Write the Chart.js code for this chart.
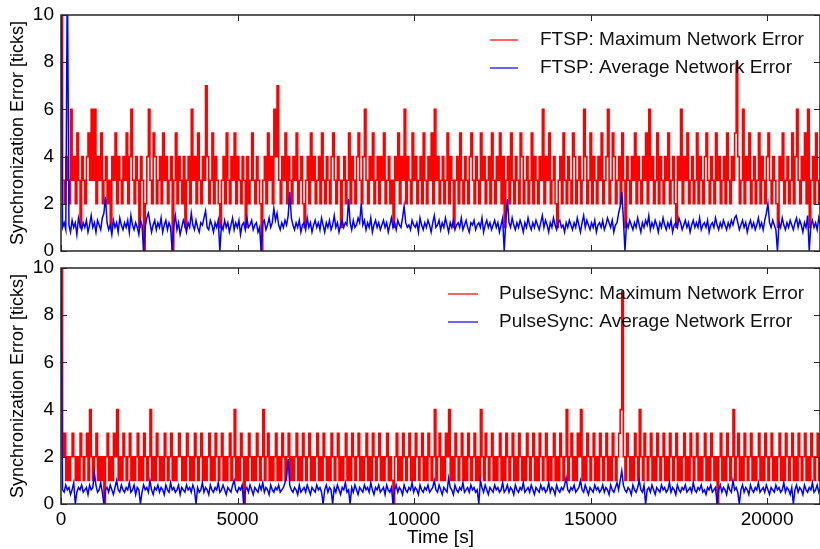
<!DOCTYPE html>
<html>
<head>
<meta charset="utf-8">
<script src="https://cdn.jsdelivr.net/npm/chart.js@4.4.1/dist/chart.umd.min.js"></script>
<style>
  body { margin: 0; background: #fff; }
  #wrap { position: relative; width: 820px; height: 549px; overflow: hidden; }
  canvas { position: absolute; left: 0; }
  #topChart { top: 0; }
  #bottomChart { top: 256px; }
</style>
</head>
<body>
<div id="wrap">
  <canvas id="topChart" width="820" height="262"></canvas>
  <canvas id="bottomChart" width="820" height="293"></canvas>
</div>
<script>
// one sample every 45 s
const sampleInterval = 45;
const xTickValues = [0, 5000, 10000, 15000, 20000];
const yTickValues = [0, 2, 4, 6, 8, 10];

const ftspMax = [
  10, 3, 2, 4, 3, 2, 6, 3, 4, 2, 5, 3, 1, 4, 3, 2, 4, 5, 3, 6,
  3, 6, 2, 4, 3, 5, 2, 3, 4, 2, 3, 1, 4, 3, 5, 2, 4, 3, 2, 4,
  3, 5, 2, 4, 6, 3, 2, 4, 3, 1, 4, 3, 0, 2, 4, 6, 3, 2, 5, 4,
  2, 3, 4, 2, 5, 3, 4, 2, 3, 4, 0, 3, 5, 2, 4, 3, 2, 4, 1, 3,
  4, 2, 6, 3, 4, 2, 5, 3, 2, 4, 3, 7, 4, 2, 3, 5, 2, 4, 3, 2,
  1, 3, 4, 2, 5, 3, 2, 4, 3, 5, 2, 4, 3, 2, 4, 3, 1, 4, 2, 3,
  5, 3, 2, 4, 3, 2, 0, 3, 4, 2, 5, 3, 4, 2, 6, 4, 7, 3, 2, 4,
  3, 5, 2, 4, 3, 2, 4, 3, 5, 2, 3, 4, 2, 1, 3, 4, 2, 5, 3, 4,
  2, 3, 4, 2, 5, 3, 2, 4, 3, 2, 4, 5, 3, 2, 4, 3, 1, 3, 4, 2,
  3, 5, 2, 4, 3, 2, 4, 5, 3, 2, 4, 6, 3, 2, 4, 3, 5, 2, 3, 4,
  2, 4, 3, 5, 2, 3, 4, 2, 3, 1, 4, 3, 5, 2, 4, 3, 6, 2, 4, 3,
  2, 5, 3, 4, 2, 3, 4, 2, 5, 3, 2, 4, 3, 5, 2, 6, 3, 4, 2, 3,
  4, 2, 3, 5, 2, 4, 3, 1, 3, 4, 2, 5, 3, 2, 4, 3, 2, 4, 5, 3,
  2, 4, 3, 2, 5, 3, 4, 2, 3, 4, 2, 5, 3, 2, 4, 3, 5, 2, 4, 1,
  3, 4, 2, 5, 3, 2, 4, 3, 2, 5, 4, 2, 3, 4, 2, 3, 5, 2, 4, 3,
  2, 4, 3, 6, 2, 4, 3, 5, 2, 3, 4, 2, 1, 3, 4, 2, 5, 3, 2, 4,
  3, 2, 5, 4, 2, 3, 4, 2, 3, 6, 4, 2, 3, 5, 2, 4, 3, 2, 4, 3,
  5, 2, 3, 4, 6, 2, 3, 5, 4, 2, 3, 4, 2, 5, 3, 1, 4, 3, 2, 4,
  3, 5, 2, 4, 3, 2, 4, 3, 5, 2, 6, 3, 4, 2, 3, 5, 2, 4, 3, 2,
  4, 3, 5, 2, 3, 4, 2, 1, 4, 3, 6, 2, 4, 3, 5, 2, 3, 4, 2, 3,
  5, 2, 4, 3, 2, 4, 5, 3, 2, 4, 3, 2, 5, 3, 4, 2, 3, 4, 2, 5,
  3, 2, 4, 3, 5, 8, 4, 2, 3, 6, 2, 4, 3, 5, 2, 3, 4, 2, 3, 5,
  2, 4, 3, 2, 4, 5, 3, 2, 4, 3, 2, 1, 4, 3, 5, 2, 3, 4, 2, 3,
  5, 2, 4, 6, 3, 2, 4, 3, 5, 2, 6, 1, 3, 4, 2, 5, 3, 2, 4, 3
];
const ftspAvg = [
  12, 1.0, 1.2, 0.9, 12, 1.1, 0.8, 1.3, 1.0, 1.2, 0.7, 1.4, 1.1, 0.9, 1.2, 1.0, 1.3, 0.8, 1.1, 1.5,
  1.0, 1.2, 0.8, 1.3, 1.1, 0.9, 1.4, 1.6, 2.3, 1.2, 0.9, 1.1, 0.7, 1.3, 1.0, 1.2, 0.8, 1.4, 1.1, 0.9,
  1.2, 1.0, 1.3, 0.8, 1.5, 1.1, 0.9, 1.2, 1.0, 0.7, 1.3, 1.1, 0, 1.0, 1.4, 1.6, 1.2, 0.8, 1.1, 1.3,
  0.9, 1.2, 1.0, 1.4, 0.8, 1.1, 1.3, 0.9, 1.2, 1.0, 0, 1.1, 1.5, 0.9, 1.2, 0.7, 1.0, 1.3, 1.1, 0.8,
  1.2, 1.0, 1.6, 1.1, 0.9, 1.3, 1.0, 0.8, 1.2, 1.1, 1.4, 1.7, 1.0, 0.9, 1.3, 1.1, 0.8, 1.2, 1.0, 1.3,
  0, 1.1, 0.9, 1.3, 1.0, 1.2, 0.8, 1.1, 1.4, 0.9, 1.2, 1.0, 1.3, 0.7, 1.1, 1.2, 0.9, 1.4, 1.0, 1.1,
  1.3, 0.9, 1.1, 1.2, 0.8, 1.0, 0, 1.2, 1.3, 0.9, 1.1, 1.4, 1.0, 1.2, 1.8, 1.3, 1.6, 1.1, 0.9, 1.2,
  1.0, 1.3, 1.1, 1.5, 2.5, 1.4, 1.1, 0.9, 1.2, 1.0, 1.3, 0.8, 1.1, 1.2, 0.9, 1.4, 1.0, 1.2, 0.8, 1.1,
  1.3, 1.0, 1.2, 0.9, 1.4, 1.1, 0.8, 1.2, 1.0, 1.3, 0.9, 1.1, 1.5, 1.0, 1.2, 0.8, 1.1, 1.3, 1.0, 1.2,
  1.1, 2.2, 1.2, 0.9, 1.3, 1.0, 1.1, 1.4, 1.2, 2.0, 1.1, 1.3, 0.9, 1.2, 1.0, 1.4, 0.8, 1.1, 1.3, 1.0,
  1.2, 0.9, 1.1, 1.3, 1.0, 1.2, 0.8, 1.1, 1.4, 1.0, 1.2, 0.9, 1.3, 1.1, 1.0, 1.4, 1.9, 1.2, 1.0, 1.1,
  0.9, 1.3, 1.1, 1.0, 1.2, 0.8, 1.4, 1.1, 0.9, 1.2, 1.0, 1.3, 1.1, 0.8, 1.2, 1.5, 1.0, 1.1, 1.3, 0.9,
  1.2, 1.0, 1.4, 1.1, 0.8, 1.2, 1.0, 1.3, 0.9, 1.1, 1.2, 1.0, 1.4, 0.9, 1.1, 1.3, 1.0, 0.8, 1.2, 1.1,
  1.3, 0.9, 1.1, 1.2, 1.0, 1.4, 0.8, 1.1, 1.3, 1.0, 1.2, 0.9, 1.1, 1.3, 1.0, 1.2, 0.8, 1.1, 1.4, 0,
  1.3, 2.2, 1.2, 1.0, 1.4, 1.1, 0.9, 1.2, 1.0, 1.3, 1.1, 0.8, 1.2, 1.0, 1.4, 1.1, 0.9, 1.2, 1.0, 1.3,
  1.1, 0.9, 1.2, 1.5, 1.0, 1.3, 1.1, 0.8, 1.2, 1.0, 1.4, 1.1, 0.9, 1.2, 1.3, 1.0, 1.1, 0.8, 1.2, 1.0,
  1.3, 1.1, 0.9, 1.2, 1.0, 1.4, 1.1, 0.8, 1.2, 1.5, 1.0, 1.3, 1.1, 0.9, 1.2, 1.0, 1.3, 0.8, 1.1, 1.2,
  1.0, 1.3, 0.9, 1.1, 1.4, 1.2, 1.0, 1.3, 0.8, 1.1, 1.2, 1.6, 1.9, 2.5, 1.4, 0, 1.2, 1.0, 1.3, 1.1,
  0.9, 1.2, 1.0, 1.4, 1.1, 0.8, 1.2, 1.0, 1.3, 1.1, 1.5, 0.9, 1.2, 1.0, 1.3, 1.1, 0.8, 1.2, 1.0, 1.4,
  1.1, 0.9, 1.2, 1.0, 1.3, 0.8, 1.1, 1.2, 1.0, 1.4, 1.2, 0.9, 1.1, 1.3, 1.0, 1.2, 0.8, 1.1, 1.3, 1.0,
  1.2, 1.0, 1.4, 0.9, 1.1, 1.2, 1.0, 1.3, 0.8, 1.1, 1.2, 1.0, 1.4, 1.1, 0.9, 1.2, 1.0, 1.3, 1.1, 0.9,
  1.2, 1.0, 1.3, 1.1, 1.4, 1.5, 1.2, 0.9, 1.1, 1.3, 1.0, 1.2, 0.8, 1.1, 1.3, 1.0, 1.2, 0.9, 1.1, 1.4,
  1.0, 1.2, 0.9, 1.3, 1.6, 2.0, 1.2, 1.0, 1.3, 1.1, 0.9, 0, 1.2, 1.0, 1.4, 1.1, 0.9, 1.2, 1.0, 1.3,
  1.1, 0.9, 1.2, 1.4, 1.0, 1.3, 1.1, 0.8, 1.2, 1.0, 1.5, 0, 1.1, 1.3, 1.0, 1.2, 0.9, 1.4, 1.1, 1.3
];
const pulseMax = [
  10, 2, 3, 1, 2, 1, 2, 3, 2, 1, 2, 1, 3, 2, 1, 2, 3, 1, 4, 2,
  1, 2, 3, 1, 2, 1, 2, 0, 2, 3, 1, 2, 1, 3, 2, 4, 1, 2, 1, 3,
  2, 1, 2, 3, 1, 2, 1, 2, 3, 1, 2, 1, 3, 2, 1, 2, 4, 1, 2, 1,
  3, 2, 1, 2, 1, 3, 2, 1, 2, 3, 1, 2, 1, 2, 3, 2, 1, 2, 1, 3,
  2, 1, 2, 1, 3, 2, 1, 2, 3, 1, 2, 1, 2, 3, 1, 2, 1, 3, 2, 1,
  2, 3, 1, 2, 1, 2, 3, 1, 2, 4, 1, 2, 1, 3, 2, 0, 2, 1, 3, 2,
  1, 2, 1, 3, 2, 1, 2, 4, 1, 2, 3, 1, 2, 1, 2, 3, 1, 2, 1, 3,
  2, 1, 2, 3, 1, 2, 1, 2, 3, 1, 2, 1, 3, 2, 1, 2, 3, 1, 2, 1,
  2, 3, 1, 2, 1, 3, 2, 1, 2, 1, 3, 2, 1, 2, 3, 1, 2, 1, 2, 3,
  1, 2, 1, 3, 2, 1, 2, 3, 1, 2, 1, 2, 3, 1, 2, 1, 3, 2, 1, 2,
  3, 1, 2, 1, 2, 3, 1, 2, 1, 0, 2, 3, 1, 2, 1, 3, 2, 1, 2, 3,
  1, 2, 1, 3, 2, 1, 2, 3, 1, 2, 1, 3, 2, 1, 2, 4, 1, 2, 3, 1,
  2, 1, 3, 2, 4, 1, 2, 1, 3, 2, 1, 2, 3, 1, 2, 1, 3, 2, 1, 2,
  3, 1, 2, 1, 4, 2, 1, 3, 2, 1, 2, 3, 1, 2, 1, 2, 3, 1, 2, 1,
  3, 2, 1, 2, 3, 1, 2, 1, 3, 2, 1, 2, 1, 3, 2, 1, 2, 3, 1, 2,
  1, 3, 2, 1, 2, 3, 1, 2, 1, 2, 3, 1, 2, 1, 3, 2, 1, 2, 4, 1,
  2, 3, 1, 2, 1, 3, 2, 4, 1, 2, 1, 3, 2, 1, 2, 3, 1, 2, 1, 3,
  2, 1, 2, 3, 1, 2, 1, 3, 2, 1, 2, 3, 4, 9, 2, 1, 3, 2, 1, 2,
  1, 3, 2, 1, 4, 2, 1, 3, 2, 1, 2, 3, 1, 2, 1, 3, 2, 1, 2, 3,
  1, 2, 1, 3, 2, 1, 2, 3, 1, 2, 1, 2, 3, 1, 2, 1, 3, 2, 1, 2,
  3, 1, 2, 1, 2, 3, 1, 2, 1, 3, 2, 1, 2, 0, 2, 3, 1, 2, 1, 3,
  2, 1, 2, 4, 1, 2, 3, 1, 2, 1, 3, 2, 1, 2, 3, 1, 2, 1, 2, 3,
  1, 2, 1, 3, 2, 1, 2, 3, 1, 2, 1, 2, 3, 1, 2, 1, 3, 2, 1, 2,
  3, 1, 2, 1, 3, 2, 1, 2, 3, 1, 2, 1, 3, 2, 1, 2, 3, 1, 2, 1
];
const pulseAvg = [
  10, 0.6, 0.5, 0.8, 0.6, 0.7, 0.4, 0.6, 0.9, 0, 0.5, 0.7, 0.6, 0.8, 0.5, 0.6, 0.7, 0.4, 0.8, 0.6,
  0.7, 1.3, 0.8, 0.5, 0.6, 0.9, 0.5, 0, 0.6, 0.7, 0.5, 0.8, 0.6, 0.4, 0.7, 1.0, 0.6, 0.5, 0.8, 0.6,
  0.5, 0.7, 0.6, 0.9, 0.5, 0.6, 0.8, 0.4, 0.7, 0.6, 0, 0.5, 0.8, 0.6, 0.7, 0.5, 1.0, 0.6, 0.4, 0.7,
  0.6, 0.8, 0.5, 0.7, 0.6, 0.4, 0.8, 0.6, 0.5, 0.9, 0.6, 0.7, 0.5, 0.6, 0.8, 0.4, 0.7, 0.6, 0.5, 0.8,
  0.6, 0.7, 0.5, 0.8, 0.6, 0, 0.7, 0.5, 0.6, 0.9, 0.5, 0.7, 0.6, 0.4, 0.8, 0.6, 0.5, 0.7, 0.6, 0.9,
  0.5, 0.6, 0.8, 0.6, 0.4, 0.7, 0.6, 0.5, 0.8, 1.0, 0.6, 0.5, 0.7, 0.6, 0.8, 0, 0.6, 0.7, 0.5, 0.8,
  0.6, 0.4, 0.7, 0.6, 0.5, 0.8, 0.6, 0.9, 0.5, 0.7, 0.6, 0.4, 0.8, 0.6, 0.5, 0.7, 0.6, 0.8, 0.5, 0.6,
  0.7, 0.9, 1.2, 1.9, 0.8, 0.6, 0.5, 0.7, 0.6, 0.4, 0.8, 0.5, 0.6, 0.7, 0.5, 0.8, 0.6, 0.4, 0.7, 0.6,
  0.5, 0.8, 0.6, 0.7, 0.5, 0, 0.6, 0.8, 0.5, 0.7, 0.6, 0, 0.7, 0.5, 0.8, 0.6, 0.4, 0.7, 0.6, 0.9,
  0.5, 0.6, 0, 0.7, 0.5, 0.8, 0.6, 0.4, 0.7, 0.6, 0.5, 0.8, 0.6, 0.7, 0.5, 0.9, 0.6, 0.4, 0.7, 0.6,
  0.8, 0.5, 0.6, 0.7, 0.4, 0.8, 0.6, 0.5, 0.7, 0, 0.6, 0.8, 0.5, 0.7, 0.6, 0.4, 0.8, 0.6, 0.5, 0.7,
  0.6, 0.9, 0.5, 0.7, 0.6, 0.4, 0.8, 0.6, 0.5, 0.7, 0.6, 0.8, 0.5, 0.6, 0.7, 1.0, 0.6, 0.5, 0.8, 0.6,
  0.4, 0.7, 0.6, 0.5, 1.1, 0.7, 0.6, 0.4, 0.8, 0.6, 0.5, 0.7, 0.6, 0.9, 0.5, 0.6, 0.7, 0.5, 0.8, 0.6,
  0.7, 0.5, 0.6, 0, 1.0, 0.7, 0.5, 0.8, 0.6, 0.4, 0.7, 0.6, 0.5, 0.8, 0.6, 0.7, 0.5, 0.6, 0.9, 0.5,
  0.6, 0.8, 0.5, 0.7, 0.6, 0.4, 0.8, 0.6, 0.5, 0.7, 0.6, 0.9, 0.5, 0.6, 0.7, 0.5, 0.8, 0.6, 0.4, 0.7,
  0.6, 0.5, 0.8, 0.6, 0.7, 0.5, 0.6, 0.9, 0.5, 0.7, 0.6, 0.4, 0.8, 0.6, 0.5, 0.7, 0.6, 0.8, 1.1, 0.6,
  0.5, 0.7, 0.6, 0.8, 0.5, 0.6, 0.7, 1.0, 0.6, 0.5, 0.8, 0.6, 0.4, 0.7, 0.6, 0.5, 0.8, 0.6, 0.7, 0.5,
  0.6, 0.8, 0.5, 0.7, 0.6, 0.4, 0.8, 0.6, 0.5, 0.7, 0.9, 0.6, 1.0, 1.4, 0.8, 0.6, 0.5, 0.7, 0.6, 0.4,
  0.8, 0.6, 0.5, 0.7, 1.0, 0.6, 0.5, 0.8, 0, 0.6, 0.7, 0.5, 0.8, 0.6, 0.4, 0.7, 0.6, 0.5, 0.8, 0.6,
  0.7, 0.5, 0.6, 0.9, 0.5, 0.7, 0.6, 0.4, 0.8, 0.6, 0.5, 0.7, 0.6, 0.8, 0.5, 0.6, 0.7, 0.5, 0.9, 0.6,
  0.5, 0.7, 0.6, 0.8, 0.5, 0.6, 0.4, 0.7, 0.6, 0.8, 0.5, 0.6, 0.7, 0, 0.6, 0.8, 0.5, 0.7, 0.6, 0.4,
  0.8, 0.6, 0.5, 1.0, 0.6, 0.7, 0.5, 0, 0.6, 0.8, 0.5, 0.7, 0.6, 0.4, 0.8, 0.6, 0.5, 0.7, 0.6, 0.9,
  0.5, 0.6, 0.7, 0.5, 0.8, 0.6, 0.4, 0.7, 0.6, 0.5, 0.8, 0.6, 0.7, 0.5, 0.6, 0.9, 0.5, 0.7, 0.6, 0.4,
  0.7, 0, 0.6, 0.8, 0.5, 0.7, 0.6, 0.4, 0.8, 0.6, 0.5, 0.7, 0.6, 0.9, 0.5, 0.6, 0.8, 0.5, 0.7, 0.6
];

const FONT = 'Liberation Sans, Arial, Helvetica, sans-serif';

const toPoints = (vals) => vals.map((v, i) => ({x: i * sampleInterval, y: v}));

// box + inward ticks like the original figure
const frameTicks = {
  id: 'frameTicks',
  afterDatasetsDraw(chart) {
    const {ctx, chartArea: a, scales} = chart;
    ctx.save();
    ctx.strokeStyle = '#262626';
    ctx.lineWidth = 1;
    xTickValues.forEach(v => {
      const px = Math.round(scales.x.getPixelForValue(v)) + 0.5;
      ctx.beginPath();
      ctx.moveTo(px, a.bottom); ctx.lineTo(px, a.bottom - 6);
      ctx.moveTo(px, a.top); ctx.lineTo(px, a.top + 6);
      ctx.stroke();
    });
    yTickValues.forEach(v => {
      const py = Math.round(scales.y.getPixelForValue(v)) + 0.5;
      ctx.beginPath();
      ctx.moveTo(a.left, py); ctx.lineTo(a.left + 6, py);
      ctx.moveTo(a.right, py); ctx.lineTo(a.right - 6, py);
      ctx.stroke();
    });
    ctx.lineWidth = 1.5;
    ctx.strokeRect(a.left, a.top, a.right - a.left, a.bottom - a.top);
    ctx.restore();
  }
};

// legend drawn inside the plot, matlab style
const innerLegend = {
  id: 'innerLegend',
  afterDraw(chart, args, opts) {
    const ctx = chart.ctx;
    ctx.save();
    ctx.font = '19px ' + FONT;
    ctx.textBaseline = 'middle';
    opts.items.forEach((it, k) => {
      const y = opts.y + k * opts.rowH;
      ctx.strokeStyle = it.color;
      ctx.lineWidth = 1.2;
      ctx.beginPath();
      ctx.moveTo(opts.x, y); ctx.lineTo(opts.x + opts.lineLen, y);
      ctx.stroke();
      ctx.fillStyle = '#111';
      ctx.fillText(it.text, opts.textX, y);
    });
    ctx.restore();
  }
};

function makeChart(id, maxVals, avgVals, names, showX, pad, xHeight, legendPos) {
  return new Chart(document.getElementById(id), {
    type: 'line',
    data: {
      datasets: [
        {label: names[0], data: toPoints(maxVals), borderColor: '#ff0000', borderWidth: 1.6,
         pointRadius: 0, stepped: true, order: 2, clip: 0},
        {label: names[1], data: toPoints(avgVals), borderColor: '#0000ff', borderWidth: 1.5,
         pointRadius: 0, tension: 0, order: 1, clip: 0}
      ]
    },
    options: {
      responsive: false,
      animation: false,
      layout: {padding: pad, autoPadding: false},
      plugins: {
        legend: {display: false},
        tooltip: {enabled: false},
        innerLegend: {
          x: legendPos.x, y: legendPos.y, lineLen: legendPos.lineLen, textX: legendPos.textX, rowH: 28,
          items: [{text: names[0], color: '#ff0000'}, {text: names[1], color: '#0000ff'}]
        }
      },
      scales: {
        x: {
          type: 'linear', min: 0, max: 21500,
          grid: {display: false, drawTicks: false},
          border: {display: false},
          afterBuildTicks: (s) => { s.ticks = xTickValues.map(v => ({value: v})); },
          afterFit: (s) => { s.height = xHeight; },
          ticks: {display: showX, padding: 4, color: '#000', font: {family: FONT, size: 19},
                  callback: (v) => String(v)},
          title: {display: showX, text: 'Time [s]', color: '#000', font: {family: FONT, size: 19},
                  padding: {top: 0, bottom: 0}}
        },
        y: {
          min: 0, max: 10,
          grid: {display: false, drawTicks: false},
          border: {display: false},
          afterBuildTicks: (s) => { s.ticks = yTickValues.map(v => ({value: v})); },
          afterFit: (s) => { s.width = 61; s.paddingTop = 0; s.paddingBottom = 0; },
          ticks: {padding: 7, color: '#000', font: {family: FONT, size: 19, lineHeight: 0.4}},
          title: {display: true, text: 'Synchronization Error [ticks]', color: '#000',
                  font: {family: FONT, size: 18}, padding: {top: 7, bottom: 0}}
        }
      }
    },
    plugins: [frameTicks, innerLegend]
  });
}

makeChart('topChart', ftspMax, ftspAvg,
  ['FTSP: Maximum Network Error', 'FTSP: Average Network Error'],
  false, {top: 15, right: 0, bottom: 11, left: 0}, 0,
  {x: 490, y: 40, lineLen: 28, textX: 540});

makeChart('bottomChart', pulseMax, pulseAvg,
  ['PulseSync: Maximum Network Error', 'PulseSync: Average Network Error'],
  true, {top: 12, right: 0, bottom: 0, left: 0}, 45,
  {x: 448, y: 38, lineLen: 30, textX: 499});
</script>
</body>
</html>
